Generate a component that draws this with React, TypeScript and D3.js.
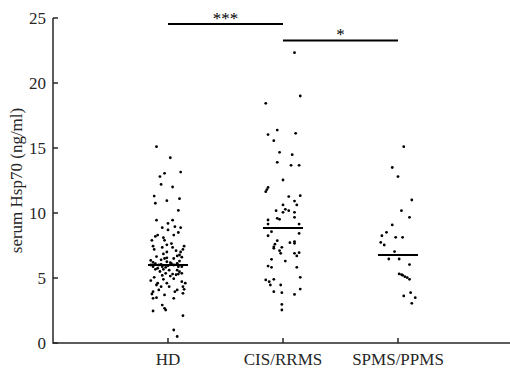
import React from "react";
import * as d3 from "d3";

const categories = ["HD", "CIS/RRMS", "SPMS/PPMS"];
const yTicks = [0, 5, 10, 15, 20, 25];
const yLabel = "serum Hsp70 (ng/ml)";

// values (ng/ml) and horizontal jitter (in category units)
const hdValues = [15.1, 14.25, 13.15, 13.05, 12.8, 12.2, 12.0, 11.3, 11.1, 10.95, 10.75, 10.2, 9.45, 9.2, 9.45, 8.87, 8.7, 8.95, 8.87, 8.5, 8.3, 8.3, 8.2, 8.1, 7.9, 7.9, 7.65, 7.55, 7.45, 7.35, 7.45, 7.35, 7.2, 7.2, 7.0, 7.0, 6.77, 6.7, 6.65, 6.5, 6.55, 6.5, 6.4, 6.35, 6.2, 6.1, 6.25, 6.18, 6.13, 6.0, 6.0, 6.0, 5.87, 5.87, 5.82, 5.87, 5.87, 5.67, 5.67, 5.6, 5.6, 5.48, 5.36, 5.3, 5.25, 5.3, 5.36, 5.15, 4.8, 4.6, 4.46, 4.6, 4.9, 4.72, 4.6, 4.33, 4.33, 4.08, 4.33, 4.08, 3.95, 4.13, 3.82, 3.95, 3.77, 3.49, 3.44, 3.7, 3.44, 2.92, 2.67, 2.54, 2.46, 2.1, 1.0, 0.5, 6.05, 5.95, 6.1, 5.75, 6.3, 5.5, 6.85, 7.1, 4.95, 5.05, 6.6, 5.2];
const hdJitter = [-0.10, 0.02, 0.11, -0.03, -0.07, -0.06, 0.04, -0.12, 0.10, -0.01, -0.11, 0.09, -0.10, 0.00, 0.04, -0.05, 0.00, 0.06, 0.11, 0.09, 0.05, -0.09, -0.11, -0.04, -0.14, -0.03, 0.03, -0.01, -0.13, -0.05, 0.14, 0.04, 0.13, -0.12, 0.11, -0.01, 0.10, 0.08, -0.10, -0.03, -0.01, 0.05, -0.06, -0.15, -0.13, -0.11, -0.01, 0.02, 0.08, 0.05, -0.08, -0.15, -0.13, -0.05, -0.02, 0.09, 0.12, -0.11, -0.04, 0.01, 0.08, 0.10, 0.12, 0.04, 0.07, 0.09, -0.02, 0.02, -0.15, -0.09, -0.10, -0.01, -0.04, 0.12, 0.15, 0.13, -0.06, -0.08, 0.01, 0.08, 0.06, 0.14, 0.13, -0.13, -0.14, -0.10, -0.13, -0.03, 0.05, -0.05, -0.03, -0.02, -0.13, 0.13, 0.05, 0.08, -0.06, 0.00, 0.03, -0.09, 0.10, -0.07, -0.04, 0.07, 0.05, -0.12, 0.12, -0.05];

const cisValues = [22.33, 19.0, 18.44, 16.38, 16.03, 16.13, 15.56, 14.67, 14.49, 13.9, 13.67, 13.67, 12.54, 11.97, 11.64, 11.8, 11.26, 11.33, 10.92, 10.62, 10.62, 10.18, 10.28, 10.05, 10.18, 10.05, 9.59, 9.51, 9.67, 9.46, 9.15, 9.15, 8.56, 8.25, 8.43, 7.87, 7.6, 7.4, 7.28, 7.72, 7.8, 7.67, 7.36, 7.1, 6.9, 6.9, 6.7, 6.95, 6.44, 6.3, 5.92, 5.82, 5.82, 5.05, 4.85, 4.72, 4.46, 4.9, 4.46, 4.15, 3.95, 3.87, 3.74, 2.97, 2.54];
const cisJitter = [0.10, 0.15, -0.15, -0.05, -0.13, 0.11, -0.08, -0.03, 0.08, -0.05, 0.07, 0.14, 0.00, -0.13, -0.15, -0.14, 0.05, 0.15, 0.10, 0.00, 0.12, -0.06, 0.02, 0.00, 0.05, 0.10, -0.05, -0.03, 0.10, -0.13, -0.13, 0.14, -0.10, -0.13, 0.14, -0.05, -0.07, -0.08, -0.08, 0.06, 0.10, 0.10, -0.01, -0.03, -0.02, 0.10, 0.12, 0.14, -0.10, 0.02, -0.13, -0.10, 0.12, 0.15, -0.15, -0.12, -0.11, -0.08, -0.02, 0.15, -0.08, -0.01, 0.10, -0.01, -0.01];

const spmsValues = [15.1, 13.5, 12.8, 11.0, 10.18, 9.67, 9.08, 8.51, 8.25, 8.13, 8.13, 7.74, 7.54, 7.03, 6.46, 6.46, 6.03, 5.31, 5.26, 5.21, 5.1, 5.03, 4.9, 3.62, 3.87, 3.49, 3.05];
const spmsJitter = [0.05, -0.05, 0.00, 0.12, 0.03, 0.10, -0.05, -0.10, -0.14, -0.02, 0.04, -0.15, -0.12, -0.03, -0.08, 0.01, 0.10, 0.01, 0.03, 0.04, 0.06, 0.08, 0.10, 0.05, 0.11, 0.15, 0.12];

const medians = [6.0, 8.85, 6.77];
const sigPairs: [number, number, string][] = [[0, 1, "***"], [1, 2, "*"]];

const groups = [
  { values: hdValues, jitter: hdJitter },
  { values: cisValues, jitter: cisJitter },
  { values: spmsValues, jitter: spmsJitter },
];

export default function App() {
  const W = 510, H = 370;
  const x = d3.scaleLinear().domain([0, 4]).range([53, 513]);
  const y = d3.scaleLinear().domain([0, 25]).range([343, 18]);
  const axisColor = "#262626";
  const font = "'Liberation Serif', 'Times New Roman', serif";
  const halfMed = 0.174;

  return (
    <svg width={W} height={H} style={{ position: "fixed", left: 0, top: 0, background: "#fff" }}>
      <rect width={W} height={H} fill="#fff" />
      {/* points */}
      {groups.map((g, gi) =>
        g.values.map((v, i) => (
          <circle key={`${gi}-${i}`} cx={x(gi + 1 + g.jitter[i])} cy={y(v)} r={1.4} fill="#000" />
        ))
      )}
      {/* medians */}
      {medians.map((m, i) => (
        <line key={`m${i}`} x1={x(i + 1 - halfMed)} x2={x(i + 1 + halfMed)} y1={y(m)} y2={y(m)} stroke="#000" strokeWidth={2} />
      ))}
      {/* axes */}
      <line x1={x(0)} x2={W} y1={y(0)} y2={y(0)} stroke={axisColor} strokeWidth={1.5} />
      <line x1={x(0)} x2={x(0)} y1={y(0) + 0.75} y2={y(25)} stroke={axisColor} strokeWidth={1.5} />
      {yTicks.map((t) => (
        <g key={`yt${t}`}>
          <line x1={x(0)} x2={x(0) + 5} y1={y(t)} y2={y(t)} stroke={axisColor} strokeWidth={1.5} />
          <text x={x(0) - 7} y={y(t)} dy="0.34em" textAnchor="end" fontFamily={font} fontSize={17} fill={axisColor}>{t}</text>
        </g>
      ))}
      {categories.map((c, i) => (
        <g key={`xt${i}`}>
          <line x1={x(i + 1)} x2={x(i + 1)} y1={y(0)} y2={y(0) - 5} stroke={axisColor} strokeWidth={1.5} />
          <text x={x(i + 1)} y={365} textAnchor="middle" fontFamily={font} fontSize={17} fill={axisColor}>{c}</text>
        </g>
      ))}
      <text transform={`translate(16,${(y(0) + y(25)) / 2}) rotate(-90)`} dy="0.34em" textAnchor="middle" fontFamily={font} fontSize={17} fill={axisColor}>{yLabel}</text>
      {/* significance */}
      {sigPairs.map(([a, b, s], i) => {
        const ly = i === 0 ? 24 : 40.5;
        return (
          <g key={`s${i}`}>
            <line x1={x(a + 1)} x2={x(b + 1)} y1={ly} y2={ly} stroke="#000" strokeWidth={2} />
            <text x={(x(a + 1) + x(b + 1)) / 2} y={ly - 0.5} textAnchor="middle" fontFamily={font} fontSize={17} fill="#000">{s}</text>
          </g>
        );
      })}
    </svg>
  );
}
